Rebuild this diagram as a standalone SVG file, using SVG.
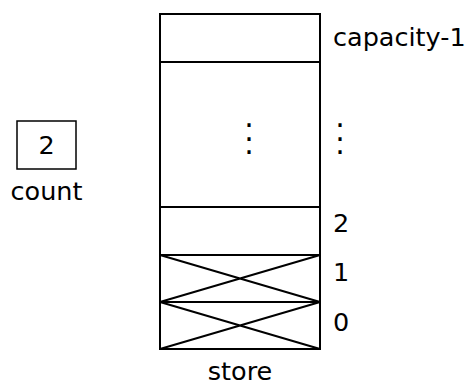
<svg xmlns="http://www.w3.org/2000/svg" width="468" height="385" viewBox="0 0 468 385">
<style>
text{font-family:"DejaVu Sans",Verdana,sans-serif;font-size:25.5px;fill:#000}
text.dot{font-size:30px;writing-mode:vertical-rl;text-orientation:upright;letter-spacing:-21.5px}
.cell{fill:#fff;stroke:#000;stroke-width:2}
.x{stroke:#000;stroke-width:2;fill:none}
</style>
<rect width="468" height="385" fill="#fff"/>
<g id="count">
<rect x="17" y="121" width="59" height="48" fill="#fff" stroke="#000" stroke-width="1.5"/>
<text x="46.5" y="154" text-anchor="middle">2</text>
<text x="46.5" y="200" text-anchor="middle">count</text>
</g>
<g id="store">
<rect class="cell" x="160" y="14" width="160" height="48"/>
<rect class="cell" x="160" y="62" width="160" height="145"/>
<rect class="cell" x="160" y="207" width="160" height="48"/>
<rect class="cell" x="160" y="255" width="160" height="47"/>
<rect class="cell" x="160" y="302" width="160" height="47"/>
<text class="dot" x="249" y="99">...</text>
<text class="dot" x="340" y="99">...</text>
<text x="240" y="380" text-anchor="middle">store</text>
<text x="333" y="46">capacity-1</text>
<text x="333" y="232">2</text>
<text x="333" y="281">1</text>
<text x="333" y="331">0</text>
</g>
<g id="connectors">
<path class="x" d="M160 255L320 302M320 255L160 302M160 302L320 349M320 302L160 349"/>
</g>
</svg>
